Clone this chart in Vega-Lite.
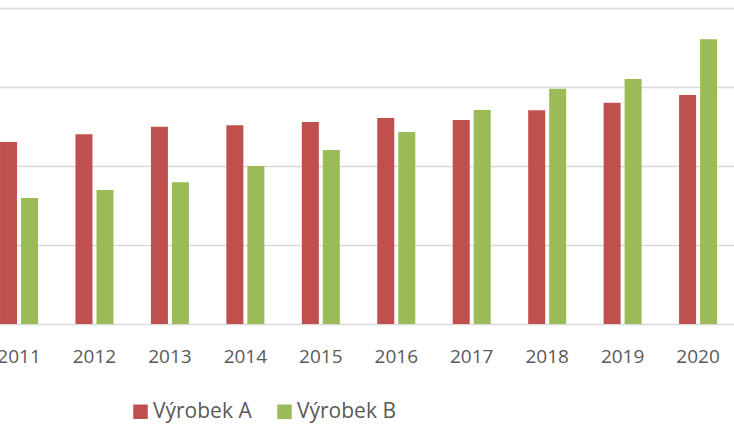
{
  "$schema": "https://vega.github.io/schema/vega-lite/v6.json",
  "autosize": "none",
  "width": 728,
  "height": 316,
  "padding": {"left": 6, "top": 8, "right": 0, "bottom": 101},
  "background": "white",
  "data": {
    "values": [
      {"year": "2011", "series": "Výrobek A", "value": 230.4},
      {"year": "2011", "series": "Výrobek B", "value": 159.5},
      {"year": "2012", "series": "Výrobek A", "value": 240.1},
      {"year": "2012", "series": "Výrobek B", "value": 169.6},
      {"year": "2013", "series": "Výrobek A", "value": 249.8},
      {"year": "2013", "series": "Výrobek B", "value": 179.3},
      {"year": "2014", "series": "Výrobek A", "value": 251.5},
      {"year": "2014", "series": "Výrobek B", "value": 200},
      {"year": "2015", "series": "Výrobek A", "value": 255.7},
      {"year": "2015", "series": "Výrobek B", "value": 220.3},
      {"year": "2016", "series": "Výrobek A", "value": 260.8},
      {"year": "2016", "series": "Výrobek B", "value": 243},
      {"year": "2017", "series": "Výrobek A", "value": 258.2},
      {"year": "2017", "series": "Výrobek B", "value": 270.9},
      {"year": "2018", "series": "Výrobek A", "value": 270.5},
      {"year": "2018", "series": "Výrobek B", "value": 297.8},
      {"year": "2019", "series": "Výrobek A", "value": 280.1},
      {"year": "2019", "series": "Výrobek B", "value": 310.1},
      {"year": "2020", "series": "Výrobek A", "value": 289.9},
      {"year": "2020", "series": "Výrobek B", "value": 360.4}
    ]
  },
  "mark": {"type": "bar", "clip": false},
  "encoding": {
    "x": {
      "field": "year",
      "type": "nominal",
      "scale": {"range": [-24.7, 729.8], "paddingInner": 0.4963, "paddingOuter": 0.24815},
      "axis": {
        "title": null,
        "labelAngle": 0,
        "domain": false,
        "ticks": false,
        "labelPadding": 23,
        "labelFont": "Open Sans",
        "labelFontSize": 19,
        "labelColor": "#595959"
      }
    },
    "xOffset": {
      "field": "series",
      "type": "nominal",
      "scale": {"paddingInner": 0.1905, "paddingOuter": 0}
    },
    "y": {
      "field": "value",
      "type": "quantitative",
      "scale": {"domain": [0, 400], "nice": false},
      "axis": {
        "title": null,
        "values": [0, 100, 200, 300, 400],
        "labels": false,
        "ticks": false,
        "domain": false,
        "grid": true,
        "gridColor": "#D9D9D9",
        "gridWidth": 1.5
      }
    },
    "color": {
      "field": "series",
      "type": "nominal",
      "scale": {"domain": ["Výrobek A", "Výrobek B"], "range": ["#C0504D", "#9BBB59"]},
      "legend": {
        "title": null,
        "orient": "none",
        "direction": "horizontal",
        "legendX": 124,
        "legendY": 393,
        "padding": 0,
        "symbolType": "square",
        "symbolSize": 210,
        "symbolStrokeWidth": 0,
        "labelFont": "Open Sans",
        "labelFontSize": 21,
        "labelColor": "#595959",
        "labelOffset": 2,
        "columnPadding": 22
      }
    }
  },
  "config": {"view": {"stroke": null}}
}
